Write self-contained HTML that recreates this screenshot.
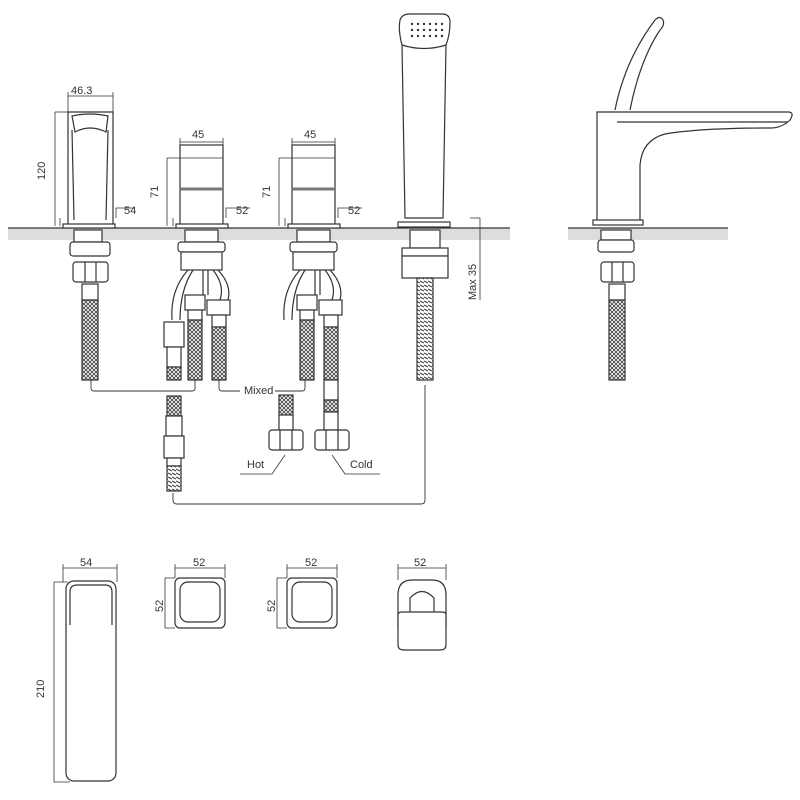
<!DOCTYPE html>
<html><head><meta charset="utf-8"><style>
body{margin:0;background:#fff}
svg{display:block}
text{font-family:"Liberation Sans",sans-serif;font-size:11px;fill:#333}
</style></head><body>
<svg width="800" height="800" viewBox="0 0 800 800" xmlns="http://www.w3.org/2000/svg">
<defs>
<pattern id="h" width="4" height="4" patternUnits="userSpaceOnUse">
<rect width="4" height="4" fill="#fff"/><path d="M0 0L4 4M4 0L0 4" stroke="#444" stroke-width="0.9"/>
</pattern>
<pattern id="s" width="4" height="4" patternUnits="userSpaceOnUse">
<rect width="4" height="4" fill="#fff"/><path d="M0 1L4 3" stroke="#444" stroke-width="1.2"/>
</pattern>
</defs>
<g fill="none" stroke="#333" stroke-width="1.2">
<!-- counter -->
<rect x="8" y="228" width="502" height="12" fill="#ddd" stroke="none"/>
<line x1="8" y1="228" x2="510" y2="228"/>
<rect x="568" y="228" width="160" height="12" fill="#ddd" stroke="none"/>
<line x1="568" y1="228" x2="728" y2="228"/>

<!-- spout front -->
<path d="M68 112H113V226H68Z" fill="#fff"/>
<path d="M72 116Q90 112 108 116L106 132Q90 124 75 132Z"/>
<path d="M72 130L74 220M108 130L106 220"/>
<rect x="63" y="224" width="52" height="4" fill="#fff"/>
<line x1="68" y1="96" x2="113" y2="96" stroke-width="0.8"/><line x1="68" y1="92" x2="68" y2="112" stroke-width="0.8"/><line x1="113" y1="92" x2="113" y2="112" stroke-width="0.8"/>
<line x1="55" y1="112" x2="68" y2="112" stroke-width="0.8"/><line x1="55" y1="112" x2="55" y2="226" stroke-width="0.8"/>
<path d="M116 218V208H135" stroke-width="0.8"/><path d="M60 218V226" stroke-width="0.8"/>
<!-- spout under -->
<rect x="74" y="230" width="28" height="12" fill="#fff"/>
<rect x="70" y="242" width="40" height="14" rx="3" fill="#fff"/>
<rect x="73" y="262" width="35" height="20" rx="3" fill="#fff"/>
<line x1="85" y1="262" x2="85" y2="282"/><line x1="96" y1="262" x2="96" y2="282"/>
<rect x="82" y="284" width="16" height="16" fill="#fff"/>
<rect x="82" y="300" width="16" height="80" fill="url(#h)"/>

<!-- valve 1 -->
<g id="v">
<rect x="180" y="145" width="43" height="81" fill="#fff"/>
<line x1="180" y1="189" x2="223" y2="189" stroke-width="3" stroke="#777"/>
<rect x="176" y="224" width="52" height="4" fill="#fff"/>
<line x1="180" y1="142" x2="223" y2="142" stroke-width="0.8"/><line x1="180" y1="138" x2="180" y2="145" stroke-width="0.8"/><line x1="223" y1="138" x2="223" y2="145" stroke-width="0.8"/>
<path d="M167 158H223M167 158V226" stroke-width="0.8"/>
<path d="M226 218V208H250" stroke-width="0.8"/><path d="M173 218V226" stroke-width="0.8"/>
<rect x="185" y="230" width="33" height="12" fill="#fff"/>
<rect x="178" y="242" width="47" height="10" rx="3" fill="#fff"/>
<rect x="181" y="252" width="41" height="18" fill="#fff"/>
<path d="M188 270Q170 290 172 320M193 270Q180 290 180 320M203 270V295M208 270V295M213 270Q225 285 220 300M218 270Q232 285 228 300"/>
<rect x="185" y="295" width="20" height="15" fill="#fff"/>
<rect x="188" y="310" width="14" height="10" fill="#fff"/>
<rect x="188" y="320" width="14" height="60" fill="url(#h)"/>
<rect x="207" y="300" width="23" height="15" fill="#fff"/>
<rect x="212" y="315" width="14" height="12" fill="#fff"/>
<rect x="212" y="327" width="14" height="53" fill="url(#h)"/>
</g>
<rect x="164" y="322" width="20" height="25" fill="#fff"/>
<rect x="167" y="347" width="14" height="20" fill="#fff"/>
<rect x="167" y="367" width="14" height="13" fill="url(#h)"/>
<rect x="167" y="396" width="14" height="20" fill="url(#h)"/>
<rect x="166" y="416" width="16" height="20" fill="#fff"/>
<rect x="164" y="436" width="20" height="22" fill="#fff"/>
<rect x="167" y="458" width="14" height="8" fill="#fff"/>
<rect x="167" y="466" width="14" height="25" fill="url(#s)"/>

<!-- valve 2 -->
<use href="#v" x="112"/>
<rect x="279" y="395" width="14" height="20" fill="url(#h)"/>
<rect x="279" y="415" width="14" height="15" fill="#fff"/>
<rect x="269" y="430" width="34" height="20" rx="3" fill="#fff"/>
<line x1="280" y1="430" x2="280" y2="450"/><line x1="292" y1="430" x2="292" y2="450"/>
<rect x="324" y="380" width="14" height="20" fill="#fff"/>
<rect x="324" y="400" width="14" height="12" fill="url(#h)"/>
<rect x="324" y="412" width="14" height="18" fill="#fff"/>
<rect x="315" y="430" width="34" height="20" rx="3" fill="#fff"/>
<line x1="326" y1="430" x2="326" y2="450"/><line x1="338" y1="430" x2="338" y2="450"/>
<path d="M285 455L272 474H240" stroke-width="0.8"/><path d="M332 455L345 474H380" stroke-width="0.8"/>

<!-- handshower -->
<path d="M405 218L402 45Q398 30 400 20Q402 14 410 14H442Q450 14 450 22Q450 35 446 45L443 218Z" fill="#fff"/>
<path d="M402 45Q424 52 446 45"/>
<g fill="#333" stroke="none">
<circle cx="412" cy="24" r="1.2"/><circle cx="418" cy="24" r="1.2"/><circle cx="424" cy="24" r="1.2"/><circle cx="430" cy="24" r="1.2"/><circle cx="436" cy="24" r="1.2"/><circle cx="442" cy="24" r="1.2"/>
<circle cx="412" cy="30" r="1.2"/><circle cx="418" cy="30" r="1.2"/><circle cx="424" cy="30" r="1.2"/><circle cx="430" cy="30" r="1.2"/><circle cx="436" cy="30" r="1.2"/><circle cx="442" cy="30" r="1.2"/>
<circle cx="412" cy="36" r="1.2"/><circle cx="418" cy="36" r="1.2"/><circle cx="424" cy="36" r="1.2"/><circle cx="430" cy="36" r="1.2"/><circle cx="436" cy="36" r="1.2"/><circle cx="442" cy="36" r="1.2"/>
</g>
<rect x="398" y="222" width="52" height="5" fill="#fff"/>
<rect x="410" y="230" width="30" height="18" fill="#fff"/>
<rect x="402" y="248" width="46" height="8" fill="#fff"/>
<rect x="402" y="256" width="46" height="22" fill="#fff"/>
<rect x="417" y="278" width="16" height="102" fill="url(#s)"/>
<path d="M480 218V300" stroke-width="0.8"/><path d="M470 218H480" stroke-width="0.8"/>

<!-- brackets -->
<path d="M91 380V388Q91 391 94 391H192Q195 391 195 388V380" stroke-width="0.9"/>
<path d="M219 380V388Q219 391 222 391H240M275 391H302Q305 391 305 388V380" stroke-width="0.9"/>
<path d="M173 493V500Q173 504 177 504H421Q425 504 425 500V385" stroke-width="0.9"/>

<!-- right side faucet -->
<path d="M597 222V112H788Q795 112 790 120Q782 128 770 128Q700 128 665 134Q642 140 640 165V222Z" fill="#fff"/>
<path d="M617 122H788"/>
<path d="M615 110Q625 60 655 20Q660 15 663 20Q665 25 660 30Q640 60 630 110"/>
<rect x="593" y="220" width="50" height="5" fill="#fff"/>
<rect x="601" y="230" width="30" height="10" fill="#fff"/>
<rect x="598" y="240" width="36" height="12" rx="3" fill="#fff"/>
<rect x="601" y="262" width="33" height="20" rx="3" fill="#fff"/>
<line x1="612" y1="262" x2="612" y2="282"/><line x1="623" y1="262" x2="623" y2="282"/>
<rect x="609" y="284" width="16" height="16" fill="#fff"/>
<rect x="609" y="300" width="16" height="80" fill="url(#h)"/>

<!-- bottom views -->
<rect x="66" y="581" width="50" height="200" rx="8" fill="#fff"/>
<path d="M70 625V592Q70 585 77 585H105Q112 585 112 592V625"/>
<path d="M63 568H117M63 564V582M117 564V582" stroke-width="0.8"/>
<path d="M54 582H68M54 582V782H70" stroke-width="0.8"/>
<g id="sq">
<rect x="175" y="578" width="50" height="50" rx="5" fill="#fff"/>
<rect x="180" y="582" width="40" height="40" rx="8"/>
<path d="M175 568H225M175 564V578M225 564V578" stroke-width="0.8"/>
<path d="M165 578H175M165 578V628H175" stroke-width="0.8"/>
</g>
<use href="#sq" x="112"/>
<path d="M398 628V595Q398 580 412 580H432Q446 580 446 595V628" fill="#fff"/>
<path d="M398 615Q398 612 402 612H442Q446 612 446 615V645Q446 650 440 650H404Q398 650 398 645Z" fill="#fff"/>
<path d="M410 612V598Q422 585 434 598V612"/>
<path d="M398 568H446M398 564V580M446 564V580" stroke-width="0.8"/>
</g>

<g>
<text x="71" y="94">46.3</text>
<text x="124" y="214">54</text>
<text x="192" y="138">45</text>
<text x="236" y="214">52</text>
<text x="304" y="138">45</text>
<text x="348" y="214">52</text>
<text x="244" y="394">Mixed</text>
<text x="247" y="468">Hot</text>
<text x="350" y="468">Cold</text>
<text x="80" y="566">54</text>
<text x="193" y="566">52</text>
<text x="305" y="566">52</text>
<text x="414" y="566">52</text>
<text transform="translate(45,180) rotate(-90)">120</text>
<text transform="translate(158,198) rotate(-90)">71</text>
<text transform="translate(270,198) rotate(-90)">71</text>
<text transform="translate(476,300) rotate(-90)">Max 35</text>
<text transform="translate(44,698) rotate(-90)">210</text>
<text transform="translate(163,612) rotate(-90)">52</text>
<text transform="translate(275,612) rotate(-90)">52</text>
</g>
</svg>
</body></html>
